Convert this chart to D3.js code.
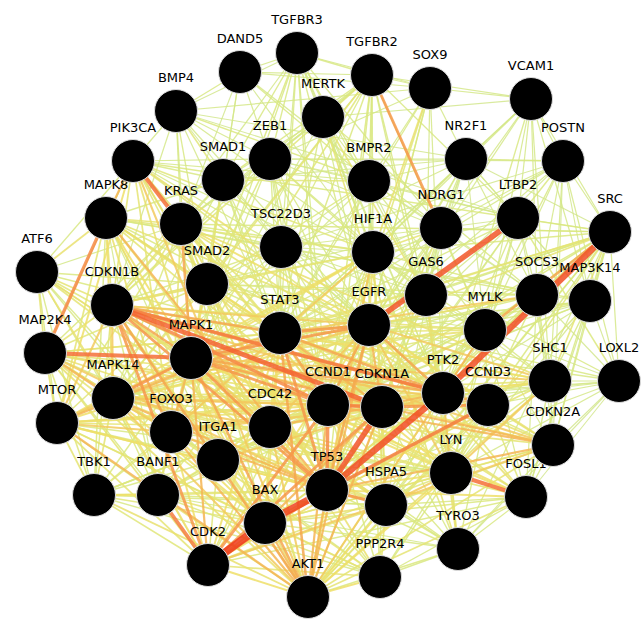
<!DOCTYPE html>
<html>
<head>
<meta charset="utf-8">
<script src="https://cdn.jsdelivr.net/npm/d3@7"></script>
<style>
body { margin: 0; background: #fff; }
</style>
</head>
<body>
<div id="chart"></div>
<script>
// node names and layout coordinates
var nodeNames = ["TGFBR3", "DAND5", "TGFBR2", "SOX9", "VCAM1", "MERTK", "BMP4", "PIK3CA", "ZEB1", "SMAD1",
    "BMPR2", "NR2F1", "POSTN", "MAPK8", "KRAS", "TSC22D3", "NDRG1", "LTBP2", "SRC", "HIF1A",
    "ATF6", "SMAD2", "GAS6", "SOCS3", "MAP3K14", "CDKN1B", "STAT3", "EGFR", "MYLK", "MAP2K4",
    "MAPK1", "SHC1", "LOXL2", "MAPK14", "PTK2", "CCND1", "CDKN1A", "CCND3", "MTOR", "CDC42",
    "FOXO3", "CDKN2A", "ITGA1", "LYN", "TP53", "TBK1", "BANF1", "FOSL1", "HSPA5", "BAX",
    "TYRO3", "CDK2", "PPP2R4", "AKT1"];
var nodeX = [297, 240, 372, 430, 531, 323, 176, 133, 270, 223,
    369, 466, 563, 106, 181, 281, 441, 518, 610, 373,
    37, 207, 426, 537, 590, 112, 280, 369, 485, 45,
    191, 550, 619, 113, 443, 328, 382, 488, 57, 270,
    171, 553, 218, 451, 327, 94, 158, 526, 386, 265,
    458, 208, 380, 308];
var nodeY = [53, 72, 75, 88, 99, 117, 111, 161, 159, 180,
    181, 159, 161, 218, 224, 247, 228, 218, 232, 252,
    272, 284, 295, 295, 301, 305, 333, 325, 330, 353,
    358, 381, 381, 398, 393, 405, 407, 405, 423, 427,
    432, 445, 460, 473, 490, 495, 495, 497, 505, 523,
    549, 565, 577, 597];

// interactions: [source, target, combined score 0..1]
var edges = [
    ["CDK2","BAX",1.0], ["BAX","TP53",0.95], ["TP53","PTK2",0.9], ["SRC","PTK2",0.9], ["LTBP2","EGFR",0.85],
    ["TP53","CDKN1A",0.85], ["CDKN1B","CDKN1A",0.8], ["MAP2K4","MAPK1",0.75], ["MAPK8","MAP2K4",0.65], ["PIK3CA","KRAS",0.75],
    ["TGFBR2","NDRG1",0.6], ["LYN","FOSL1",0.75], ["BANF1","CDK2",0.7], ["SRC","MYLK",0.55], ["TP53","CCND3",0.7],
    ["CCND1","CDK2",0.6], ["MAPK14","MAPK1",0.6], ["CDKN1B","PTK2",0.7], ["CDKN1B","STAT3",0.55], ["TP53","HSPA5",0.6],
    ["CDKN1A","CCND3",0.6], ["STAT3","CCND1",0.55], ["MAPK1","CCND1",0.6], ["MAPK1","STAT3",0.5], ["MAPK1","EGFR",0.6],
    ["PIK3CA","MAPK8",0.5], ["PIK3CA","AKT1",0.45], ["KRAS","MAPK1",0.55], ["MTOR","AKT1",0.5], ["MAPK14","TP53",0.5],
    ["FOXO3","AKT1",0.5], ["FOXO3","CDKN1B",0.55], ["TP53","CDK2",0.55], ["BAX","AKT1",0.5], ["HSPA5","LYN",0.45],
    ["CCND1","CDKN1A",0.7], ["MYLK","PTK2",0.5], ["SOCS3","STAT3",0.45], ["EGFR","STAT3",0.6], ["EGFR","PTK2",0.55],
    ["EGFR","SHC1",0.45], ["SHC1","SRC",0.3], ["LYN","PTK2",0.45], ["HIF1A","TP53",0.45], ["HIF1A","EGFR",0.4],
    ["CDC42","MAPK14",0.45], ["CDC42","PTK2",0.5], ["ITGA1","PTK2",0.45], ["MAPK8","TP53",0.5], ["MAP2K4","MAPK14",0.5],
    ["TBK1","BANF1",0.4], ["CDK2","CCND3",0.4], ["CDK2","CDKN1A",0.6], ["AKT1","TP53",0.5], ["PPP2R4","AKT1",0.4],
    ["LYN","SHC1",0.45], ["CDKN2A","CCND3",0.3], ["SOX9","HIF1A",0.35],

    ["TGFBR3","DAND5",0.1], ["TGFBR3","TGFBR2",0.15], ["TGFBR3","MERTK",0.1], ["TGFBR3","ZEB1",0.15], ["TGFBR3","SMAD1",0.15],
    ["TGFBR3","BMPR2",0.2], ["TGFBR3","SMAD2",0.2], ["TGFBR3","TSC22D3",0.1], ["TGFBR3","STAT3",0.15], ["TGFBR3","HIF1A",0.1],
    ["TGFBR3","EGFR",0.15], ["TGFBR3","NDRG1",0.1], ["TGFBR3","GAS6",0.1], ["TGFBR3","CDKN1B",0.1], ["TGFBR3","MAPK1",0.15],
    ["TGFBR3","TP53",0.15], ["TGFBR3","SOX9",0.1], ["TGFBR3","CCND1",0.1], ["TGFBR3","PTK2",0.1],
    ["DAND5","BMP4",0.15], ["DAND5","SMAD1",0.1], ["DAND5","ZEB1",0.1], ["DAND5","BMPR2",0.15], ["DAND5","TGFBR2",0.1],
    ["DAND5","SMAD2",0.1], ["DAND5","SOX9",0.1], ["DAND5","KRAS",0.05], ["DAND5","NDRG1",0.1], ["DAND5","HIF1A",0.05],
    ["TGFBR2","MERTK",0.1], ["TGFBR2","SMAD2",0.3], ["TGFBR2","SMAD1",0.2], ["TGFBR2","BMPR2",0.15], ["TGFBR2","ZEB1",0.15],
    ["TGFBR2","STAT3",0.2], ["TGFBR2","EGFR",0.2], ["TGFBR2","HIF1A",0.15], ["TGFBR2","GAS6",0.15], ["TGFBR2","MYLK",0.2],
    ["TGFBR2","CDKN1B",0.25], ["TGFBR2","MAPK1",0.25], ["TGFBR2","KRAS",0.15], ["TGFBR2","TP53",0.2], ["TGFBR2","PTK2",0.15],
    ["TGFBR2","SOX9",0.1], ["TGFBR2","LTBP2",0.15], ["TGFBR2","CCND1",0.2], ["TGFBR2","TSC22D3",0.15], ["TGFBR2","MAPK14",0.15],
    ["SOX9","BMPR2",0.1], ["SOX9","NR2F1",0.1], ["SOX9","VCAM1",0.1], ["SOX9","EGFR",0.1], ["SOX9","GAS6",0.1],
    ["SOX9","ZEB1",0.1], ["SOX9","CCND1",0.25], ["SOX9","TP53",0.2], ["SOX9","STAT3",0.15], ["SOX9","PTK2",0.1],
    ["VCAM1","NR2F1",0.05], ["VCAM1","POSTN",0.1], ["VCAM1","MERTK",0.05], ["VCAM1","SRC",0.1], ["VCAM1","LTBP2",0.1],
    ["VCAM1","EGFR",0.1], ["VCAM1","PTK2",0.15], ["VCAM1","STAT3",0.1], ["VCAM1","HIF1A",0.1], ["VCAM1","SOCS3",0.1],
    ["VCAM1","MYLK",0.1], ["VCAM1","SHC1",0.1], ["VCAM1","MAP3K14",0.1], ["VCAM1","CCND1",0.1], ["VCAM1","TGFBR2",0.1],
    ["MERTK","GAS6",0.3], ["MERTK","TYRO3",0.3], ["MERTK","ZEB1",0.1], ["MERTK","SMAD1",0.1], ["MERTK","STAT3",0.15],
    ["MERTK","EGFR",0.1], ["MERTK","HIF1A",0.1], ["MERTK","BMPR2",0.1], ["MERTK","KRAS",0.1], ["MERTK","PTK2",0.1],
    ["MERTK","LYN",0.1], ["MERTK","SOCS3",0.15], ["MERTK","MAPK1",0.1],
    ["BMP4","SMAD1",0.25], ["BMP4","BMPR2",0.2], ["BMP4","SMAD2",0.15], ["BMP4","ZEB1",0.1], ["BMP4","PIK3CA",0.1],
    ["BMP4","TSC22D3",0.05], ["BMP4","KRAS",0.1], ["BMP4","STAT3",0.1], ["BMP4","HIF1A",0.1], ["BMP4","MAPK1",0.15],
    ["BMP4","TGFBR3",0.05], ["BMP4","CDKN1B",0.1], ["BMP4","NR2F1",0.05], ["BMP4","LTBP2",0.05], ["BMP4","SOX9",0.1],
    ["BMP4","EGFR",0.1],
    ["PIK3CA","MTOR",0.4], ["PIK3CA","EGFR",0.35], ["PIK3CA","SMAD1",0.15], ["PIK3CA","ZEB1",0.1], ["PIK3CA","STAT3",0.3],
    ["PIK3CA","TSC22D3",0.15], ["PIK3CA","SMAD2",0.2], ["PIK3CA","CDKN1B",0.3], ["PIK3CA","MAPK1",0.35], ["PIK3CA","MAP2K4",0.2],
    ["PIK3CA","ATF6",0.15], ["PIK3CA","PTK2",0.25], ["PIK3CA","FOXO3",0.3], ["PIK3CA","HIF1A",0.25], ["PIK3CA","TP53",0.35],
    ["PIK3CA","CCND1",0.3], ["PIK3CA","CDC42",0.25], ["PIK3CA","BMPR2",0.1], ["PIK3CA","GAS6",0.1],
    ["ZEB1","SMAD1",0.1], ["ZEB1","SMAD2",0.2], ["ZEB1","TSC22D3",0.1], ["ZEB1","STAT3",0.15], ["ZEB1","HIF1A",0.2],
    ["ZEB1","EGFR",0.15], ["ZEB1","BMPR2",0.1], ["ZEB1","CDKN1B",0.15], ["ZEB1","MAPK1",0.15], ["ZEB1","NDRG1",0.1],
    ["ZEB1","TP53",0.15], ["ZEB1","CCND1",0.2], ["ZEB1","CDKN1A",0.15], ["ZEB1","KRAS",0.1], ["ZEB1","GAS6",0.1],
    ["ZEB1","NR2F1",0.05], ["ZEB1","POSTN",0.1], ["ZEB1","LTBP2",0.05],
    ["SMAD1","SMAD2",0.3], ["SMAD1","BMPR2",0.25], ["SMAD1","KRAS",0.1], ["SMAD1","STAT3",0.15], ["SMAD1","MAPK1",0.2],
    ["SMAD1","TSC22D3",0.1], ["SMAD1","CDKN1B",0.15], ["SMAD1","TP53",0.15], ["SMAD1","HIF1A",0.1], ["SMAD1","MAPK8",0.15],
    ["SMAD1","MAPK14",0.15], ["SMAD1","EGFR",0.1], ["SMAD1","CCND1",0.15],
    ["BMPR2","SMAD2",0.2], ["BMPR2","NDRG1",0.1], ["BMPR2","HIF1A",0.1], ["BMPR2","EGFR",0.1], ["BMPR2","STAT3",0.1],
    ["BMPR2","MAPK1",0.1], ["BMPR2","TSC22D3",0.05], ["BMPR2","NR2F1",0.05], ["BMPR2","GAS6",0.05], ["BMPR2","LTBP2",0.1],
    ["BMPR2","MYLK",0.1], ["BMPR2","SOCS3",0.05],
    ["NR2F1","NDRG1",0.1], ["NR2F1","POSTN",0.15], ["NR2F1","LTBP2",0.1], ["NR2F1","HIF1A",0.15], ["NR2F1","EGFR",0.1],
    ["NR2F1","CCND1",0.15], ["NR2F1","TP53",0.1], ["NR2F1","STAT3",0.1], ["NR2F1","GAS6",0.05], ["NR2F1","SOCS3",0.1],
    ["NR2F1","MYLK",0.05], ["NR2F1","SRC",0.05], ["NR2F1","CDKN1A",0.1], ["NR2F1","TSC22D3",0.1], ["NR2F1","SMAD1",0.05],
    ["NR2F1","MAP3K14",0.05],
    ["POSTN","LTBP2",0.2], ["POSTN","SRC",0.1], ["POSTN","EGFR",0.1], ["POSTN","PTK2",0.15], ["POSTN","MYLK",0.1],
    ["POSTN","NDRG1",0.1], ["POSTN","SOCS3",0.1], ["POSTN","STAT3",0.1], ["POSTN","SHC1",0.1], ["POSTN","LOXL2",0.1],
    ["POSTN","GAS6",0.05], ["POSTN","MAP3K14",0.05], ["POSTN","HIF1A",0.1], ["POSTN","CDKN2A",0.05], ["POSTN","TSC22D3",0.05],
    ["MAPK8","KRAS",0.3], ["MAPK8","ATF6",0.35], ["MAPK8","MAPK14",0.4], ["MAPK8","MAPK1",0.4], ["MAPK8","STAT3",0.35],
    ["MAPK8","CDKN1B",0.3], ["MAPK8","SMAD2",0.3], ["MAPK8","FOXO3",0.35], ["MAPK8","CCND1",0.3], ["MAPK8","CDKN1A",0.35],
    ["MAPK8","EGFR",0.3], ["MAPK8","HIF1A",0.25], ["MAPK8","MTOR",0.3], ["MAPK8","AKT1",0.35], ["MAPK8","BAX",0.3],
    ["MAPK8","TBK1",0.2], ["MAPK8","BANF1",0.1], ["MAPK8","ITGA1",0.1], ["MAPK8","MAP3K14",0.15], ["MAPK8","CDC42",0.3],
    ["MAPK8","PTK2",0.2], ["MAPK8","TSC22D3",0.15],
    ["KRAS","SMAD2",0.2], ["KRAS","STAT3",0.3], ["KRAS","EGFR",0.4], ["KRAS","CDKN1B",0.3], ["KRAS","PTK2",0.3],
    ["KRAS","TP53",0.35], ["KRAS","CCND1",0.35], ["KRAS","AKT1",0.3], ["KRAS","MTOR",0.25], ["KRAS","MAPK14",0.2],
    ["KRAS","CDC42",0.3], ["KRAS","SHC1",0.35], ["KRAS","SRC",0.2], ["KRAS","TSC22D3",0.15], ["KRAS","HIF1A",0.2],
    ["KRAS","CDKN1A",0.3], ["KRAS","FOXO3",0.3], ["KRAS","ATF6",0.1], ["KRAS","MAP2K4",0.2], ["KRAS","BAX",0.2],
    ["TSC22D3","SMAD2",0.15], ["TSC22D3","STAT3",0.15], ["TSC22D3","HIF1A",0.1], ["TSC22D3","EGFR",0.15], ["TSC22D3","MAPK1",0.15],
    ["TSC22D3","CCND1",0.15], ["TSC22D3","TP53",0.15], ["TSC22D3","FOXO3",0.2], ["TSC22D3","CDKN1B",0.15], ["TSC22D3","NDRG1",0.1],
    ["TSC22D3","GAS6",0.05], ["TSC22D3","MYLK",0.1], ["TSC22D3","CDKN1A",0.15], ["TSC22D3","MAPK14",0.1], ["TSC22D3","SOCS3",0.15],
    ["TSC22D3","PTK2",0.1], ["TSC22D3","CDC42",0.1],
    ["NDRG1","HIF1A",0.3], ["NDRG1","TP53",0.3], ["NDRG1","EGFR",0.2], ["NDRG1","GAS6",0.1], ["NDRG1","LTBP2",0.05],
    ["NDRG1","MYLK",0.1], ["NDRG1","SOCS3",0.05], ["NDRG1","PTK2",0.1], ["NDRG1","CDKN1A",0.2], ["NDRG1","CCND1",0.15],
    ["NDRG1","STAT3",0.1], ["NDRG1","MAPK1",0.1], ["NDRG1","HSPA5",0.1], ["NDRG1","SRC",0.1], ["NDRG1","CDKN1B",0.1],
    ["LTBP2","GAS6",0.1], ["LTBP2","SOCS3",0.1], ["LTBP2","MYLK",0.15], ["LTBP2","SRC",0.1], ["LTBP2","PTK2",0.15],
    ["LTBP2","STAT3",0.15], ["LTBP2","HIF1A",0.1], ["LTBP2","MAP3K14",0.05], ["LTBP2","SHC1",0.05], ["LTBP2","LOXL2",0.2],
    ["LTBP2","CCND1",0.1], ["LTBP2","TP53",0.15], ["LTBP2","CDKN1A",0.1], ["LTBP2","LYN",0.1],
    ["SRC","MAP3K14",0.15], ["SRC","SOCS3",0.25], ["SRC","EGFR",0.3], ["SRC","STAT3",0.3], ["SRC","LYN",0.25],
    ["SRC","CDKN1A",0.2], ["SRC","CCND1",0.2], ["SRC","LOXL2",0.1], ["SRC","CDKN2A",0.15], ["SRC","FOSL1",0.15],
    ["SRC","GAS6",0.1], ["SRC","HIF1A",0.2], ["SRC","TP53",0.25], ["SRC","CCND3",0.2], ["SRC","CDC42",0.2],
    ["SRC","MAPK1",0.25], ["SRC","AKT1",0.2], ["SRC","PIK3CA",0.2], ["SRC","MAPK14",0.2], ["SRC","HSPA5",0.15],
    ["SRC","TYRO3",0.1],
    ["HIF1A","STAT3",0.45], ["HIF1A","GAS6",0.15], ["HIF1A","MAPK1",0.4], ["HIF1A","CCND1",0.35], ["HIF1A","CDKN1A",0.35],
    ["HIF1A","PTK2",0.25], ["HIF1A","MTOR",0.4], ["HIF1A","AKT1",0.4], ["HIF1A","SOCS3",0.2], ["HIF1A","MYLK",0.15],
    ["HIF1A","HSPA5",0.3], ["HIF1A","FOXO3",0.3], ["HIF1A","CDKN1B",0.3], ["HIF1A","SMAD2",0.25], ["HIF1A","MAPK14",0.3],
    ["HIF1A","BAX",0.25], ["HIF1A","LYN",0.15], ["HIF1A","CDK2",0.2],
    ["ATF6","MAP2K4",0.3], ["ATF6","HSPA5",0.35], ["ATF6","MAPK14",0.35], ["ATF6","CDKN1B",0.3], ["ATF6","MAPK1",0.25],
    ["ATF6","MTOR",0.2], ["ATF6","SMAD2",0.2], ["ATF6","TBK1",0.15], ["ATF6","STAT3",0.2], ["ATF6","FOXO3",0.15],
    ["ATF6","CDK2",0.1], ["ATF6","TP53",0.3], ["ATF6","BAX",0.15], ["ATF6","CDC42",0.1],
    ["SMAD2","STAT3",0.4], ["SMAD2","MAPK1",0.4], ["SMAD2","CDKN1B",0.35], ["SMAD2","CCND1",0.35], ["SMAD2","TP53",0.35],
    ["SMAD2","EGFR",0.3], ["SMAD2","MAPK14",0.3], ["SMAD2","FOXO3",0.35], ["SMAD2","CDKN1A",0.35], ["SMAD2","PTK2",0.2],
    ["SMAD2","CDC42",0.2], ["SMAD2","AKT1",0.3], ["SMAD2","SOCS3",0.2], ["SMAD2","MYLK",0.1], ["SMAD2","MAP2K4",0.25],
    ["SMAD2","MTOR",0.25], ["SMAD2","GAS6",0.1],
    ["GAS6","TYRO3",0.35], ["GAS6","LYN",0.2], ["GAS6","MYLK",0.1], ["GAS6","SOCS3",0.2], ["GAS6","EGFR",0.15],
    ["GAS6","PTK2",0.25], ["GAS6","STAT3",0.2], ["GAS6","AKT1",0.2], ["GAS6","CDKN1A",0.15], ["GAS6","CCND1",0.1],
    ["GAS6","TP53",0.15], ["GAS6","SHC1",0.15],
    ["SOCS3","MAP3K14",0.1], ["SOCS3","SHC1",0.15], ["SOCS3","MYLK",0.1], ["SOCS3","EGFR",0.35], ["SOCS3","PTK2",0.2],
    ["SOCS3","LYN",0.2], ["SOCS3","CCND1",0.2], ["SOCS3","CDKN1A",0.15], ["SOCS3","TP53",0.2], ["SOCS3","LOXL2",0.05],
    ["SOCS3","CDKN2A",0.1], ["SOCS3","FOSL1",0.1], ["SOCS3","MAPK1",0.25], ["SOCS3","MAPK14",0.2], ["SOCS3","AKT1",0.2],
    ["SOCS3","CDC42",0.15], ["SOCS3","ITGA1",0.1],
    ["MAP3K14","SHC1",0.15], ["MAP3K14","LOXL2",0.05], ["MAP3K14","MYLK",0.05], ["MAP3K14","TBK1",0.15], ["MAP3K14","MAPK14",0.2],
    ["MAP3K14","MAPK1",0.2], ["MAP3K14","CDKN2A",0.05], ["MAP3K14","PTK2",0.1], ["MAP3K14","STAT3",0.15], ["MAP3K14","CCND1",0.1],
    ["MAP3K14","LYN",0.1], ["MAP3K14","FOSL1",0.1], ["MAP3K14","AKT1",0.2],
    ["CDKN1B","MAPK1",0.55], ["CDKN1B","CCND1",0.65], ["CDKN1B","TP53",0.6], ["CDKN1B","CDK2",0.6], ["CDKN1B","AKT1",0.55],
    ["CDKN1B","MAPK14",0.45], ["CDKN1B","MTOR",0.45], ["CDKN1B","MAP2K4",0.3], ["CDKN1B","CCND3",0.55], ["CDKN1B","CDC42",0.35],
    ["CDKN1B","BAX",0.35], ["CDKN1B","EGFR",0.45], ["CDKN1B","ITGA1",0.25], ["CDKN1B","CDKN2A",0.45], ["CDKN1B","HSPA5",0.3],
    ["CDKN1B","BANF1",0.2], ["CDKN1B","LYN",0.3], ["CDKN1B","MYLK",0.3], ["CDKN1B","SHC1",0.3], ["CDKN1B","TBK1",0.2],
    ["STAT3","TP53",0.6], ["STAT3","CDKN1A",0.5], ["STAT3","PTK2",0.55], ["STAT3","AKT1",0.55], ["STAT3","MTOR",0.5],
    ["STAT3","MAPK14",0.45], ["STAT3","CDC42",0.4], ["STAT3","FOXO3",0.45], ["STAT3","MYLK",0.3], ["STAT3","SHC1",0.4],
    ["STAT3","LYN",0.4], ["STAT3","HSPA5",0.35], ["STAT3","BAX",0.4], ["STAT3","CDK2",0.4], ["STAT3","CCND3",0.4],
    ["STAT3","CDKN2A",0.35], ["STAT3","FOSL1",0.3], ["STAT3","MAP2K4",0.3], ["STAT3","ITGA1",0.3], ["STAT3","BANF1",0.2],
    ["STAT3","LOXL2",0.15], ["STAT3","TBK1",0.2],
    ["EGFR","CCND1",0.55], ["EGFR","TP53",0.55], ["EGFR","CDKN1A",0.5], ["EGFR","AKT1",0.5], ["EGFR","MTOR",0.4],
    ["EGFR","MAPK14",0.45], ["EGFR","CDC42",0.45], ["EGFR","LYN",0.45], ["EGFR","MYLK",0.3], ["EGFR","FOXO3",0.35],
    ["EGFR","HSPA5",0.3], ["EGFR","BAX",0.3], ["EGFR","CCND3",0.4], ["EGFR","CDK2",0.4], ["EGFR","CDKN2A",0.35],
    ["EGFR","FOSL1",0.35], ["EGFR","ITGA1",0.3], ["EGFR","TYRO3",0.25], ["EGFR","PPP2R4",0.2], ["EGFR","LOXL2",0.15],
    ["EGFR","MAP2K4",0.3], ["EGFR","MAP3K14",0.1],
    ["MYLK","CCND3",0.2], ["MYLK","CDKN1A",0.2], ["MYLK","LYN",0.2], ["MYLK","SHC1",0.15], ["MYLK","MAPK1",0.35],
    ["MYLK","MAPK14",0.25], ["MYLK","CDC42",0.3], ["MYLK","TP53",0.25], ["MYLK","ITGA1",0.25], ["MYLK","CDKN2A",0.1],
    ["MYLK","FOSL1",0.1], ["MYLK","LOXL2",0.05], ["MYLK","HSPA5",0.1], ["MYLK","AKT1",0.25], ["MYLK","CCND1",0.2],
    ["MAP2K4","MTOR",0.3], ["MAP2K4","TP53",0.45], ["MAP2K4","FOXO3",0.35], ["MAP2K4","CDKN1A",0.35], ["MAP2K4","CCND1",0.35],
    ["MAP2K4","CDC42",0.35], ["MAP2K4","TBK1",0.25], ["MAP2K4","BANF1",0.15], ["MAP2K4","AKT1",0.35], ["MAP2K4","BAX",0.3],
    ["MAP2K4","CDK2",0.3], ["MAP2K4","ITGA1",0.15], ["MAP2K4","HSPA5",0.2], ["MAP2K4","PTK2",0.3],
    ["MAPK1","TP53",0.6], ["MAPK1","CDKN1A",0.55], ["MAPK1","PTK2",0.55], ["MAPK1","AKT1",0.55], ["MAPK1","MTOR",0.45],
    ["MAPK1","FOXO3",0.5], ["MAPK1","CDC42",0.45], ["MAPK1","CCND3",0.45], ["MAPK1","CDK2",0.5], ["MAPK1","BAX",0.4],
    ["MAPK1","LYN",0.4], ["MAPK1","SHC1",0.45], ["MAPK1","HSPA5",0.35], ["MAPK1","ITGA1",0.3], ["MAPK1","BANF1",0.25],
    ["MAPK1","TBK1",0.2], ["MAPK1","FOSL1",0.4], ["MAPK1","CDKN2A",0.4], ["MAPK1","TYRO3",0.2], ["MAPK1","PPP2R4",0.25],
    ["SHC1","PTK2",0.4], ["SHC1","CDKN1A",0.2], ["SHC1","CCND1",0.25], ["SHC1","CCND3",0.2], ["SHC1","TP53",0.3],
    ["SHC1","AKT1",0.35], ["SHC1","CDKN2A",0.1], ["SHC1","FOSL1",0.15], ["SHC1","LOXL2",0.1], ["SHC1","MAPK14",0.3],
    ["SHC1","CDC42",0.3], ["SHC1","HSPA5",0.2],
    ["LOXL2","CDKN2A",0.05], ["LOXL2","PTK2",0.1], ["LOXL2","CCND3",0.1], ["LOXL2","FOSL1",0.05], ["LOXL2","TP53",0.1],
    ["LOXL2","LYN",0.1], ["LOXL2","CCND1",0.1], ["LOXL2","HIF1A",0.15], ["LOXL2","TYRO3",0.05], ["LOXL2","CDKN1A",0.1],
    ["MAPK14","CDKN1A",0.45], ["MAPK14","CCND1",0.45], ["MAPK14","MTOR",0.35], ["MAPK14","FOXO3",0.45], ["MAPK14","AKT1",0.45],
    ["MAPK14","BAX",0.4], ["MAPK14","CDK2",0.4], ["MAPK14","BANF1",0.2], ["MAPK14","TBK1",0.3], ["MAPK14","ITGA1",0.25],
    ["MAPK14","HSPA5",0.35], ["MAPK14","PTK2",0.35], ["MAPK14","LYN",0.3], ["MAPK14","CCND3",0.35], ["MAPK14","FOSL1",0.3],
    ["MAPK14","CDKN2A",0.3],
    ["PTK2","CDKN1A",0.4], ["PTK2","CCND1",0.4], ["PTK2","CCND3",0.3], ["PTK2","AKT1",0.45], ["PTK2","MTOR",0.3],
    ["PTK2","HSPA5",0.2], ["PTK2","FOSL1",0.3], ["PTK2","CDKN2A",0.25], ["PTK2","TYRO3",0.2], ["PTK2","BAX",0.3],
    ["PTK2","CDK2",0.3], ["PTK2","FOXO3",0.3],
    ["CCND1","CCND3",0.45], ["CCND1","TP53",0.65], ["CCND1","AKT1",0.5], ["CCND1","MTOR",0.4], ["CCND1","FOXO3",0.45],
    ["CCND1","CDC42",0.35], ["CCND1","BAX",0.35], ["CCND1","HSPA5",0.3], ["CCND1","LYN",0.3], ["CCND1","CDKN2A",0.5],
    ["CCND1","FOSL1",0.4], ["CCND1","ITGA1",0.25], ["CCND1","BANF1",0.2], ["CCND1","PPP2R4",0.2], ["CCND1","TBK1",0.15],
    ["CCND1","TYRO3",0.15],
    ["CDKN1A","AKT1",0.5], ["CDKN1A","MTOR",0.35], ["CDKN1A","FOXO3",0.45], ["CDKN1A","BAX",0.5], ["CDKN1A","HSPA5",0.3],
    ["CDKN1A","LYN",0.3], ["CDKN1A","CDKN2A",0.5], ["CDKN1A","FOSL1",0.3], ["CDKN1A","CDC42",0.3], ["CDKN1A","ITGA1",0.2],
    ["CDKN1A","BANF1",0.2], ["CDKN1A","PPP2R4",0.2], ["CDKN1A","TYRO3",0.15],
    ["CCND3","AKT1",0.3], ["CCND3","LYN",0.25], ["CCND3","FOSL1",0.25], ["CCND3","HSPA5",0.2], ["CCND3","BAX",0.25],
    ["CCND3","TYRO3",0.15], ["CCND3","PPP2R4",0.15],
    ["MTOR","FOXO3",0.45], ["MTOR","TP53",0.4], ["MTOR","TBK1",0.3], ["MTOR","BANF1",0.2], ["MTOR","CDC42",0.3],
    ["MTOR","BAX",0.3], ["MTOR","CDK2",0.3], ["MTOR","HSPA5",0.35], ["MTOR","ITGA1",0.2], ["MTOR","PPP2R4",0.25],
    ["MTOR","LYN",0.15],
    ["CDC42","ITGA1",0.4], ["CDC42","TP53",0.4], ["CDC42","AKT1",0.45], ["CDC42","FOXO3",0.3], ["CDC42","BAX",0.3],
    ["CDC42","CDK2",0.3], ["CDC42","LYN",0.3], ["CDC42","HSPA5",0.2], ["CDC42","PPP2R4",0.2], ["CDC42","BANF1",0.25],
    ["CDC42","TBK1",0.2], ["CDC42","TYRO3",0.15],
    ["FOXO3","TP53",0.5], ["FOXO3","BAX",0.4], ["FOXO3","CDK2",0.4], ["FOXO3","ITGA1",0.2], ["FOXO3","BANF1",0.3],
    ["FOXO3","TBK1",0.25], ["FOXO3","HSPA5",0.3], ["FOXO3","PPP2R4",0.3], ["FOXO3","LYN",0.2],
    ["CDKN2A","TP53",0.5], ["CDKN2A","CDK2",0.45], ["CDKN2A","FOSL1",0.15], ["CDKN2A","LYN",0.2], ["CDKN2A","AKT1",0.3],
    ["CDKN2A","BAX",0.3], ["CDKN2A","HSPA5",0.15], ["CDKN2A","TYRO3",0.1],
    ["ITGA1","AKT1",0.35], ["ITGA1","TP53",0.3], ["ITGA1","BAX",0.25], ["ITGA1","CDK2",0.25], ["ITGA1","LYN",0.2],
    ["ITGA1","BANF1",0.2], ["ITGA1","HSPA5",0.2], ["ITGA1","TBK1",0.15], ["ITGA1","PPP2R4",0.15],
    ["LYN","TP53",0.4], ["LYN","AKT1",0.4], ["LYN","TYRO3",0.3], ["LYN","BAX",0.25], ["LYN","CDK2",0.25],
    ["LYN","PPP2R4",0.2],
    ["TP53","PPP2R4",0.35], ["TP53","TYRO3",0.2], ["TP53","FOSL1",0.4], ["TP53","BANF1",0.3], ["TP53","TBK1",0.25],
    ["TBK1","AKT1",0.35], ["TBK1","BAX",0.25], ["TBK1","CDK2",0.25], ["TBK1","HSPA5",0.2], ["TBK1","PPP2R4",0.15],
    ["BANF1","BAX",0.3], ["BANF1","AKT1",0.3], ["BANF1","HSPA5",0.2], ["BANF1","PPP2R4",0.2], ["BANF1","TYRO3",0.1],
    ["FOSL1","AKT1",0.3], ["FOSL1","HSPA5",0.15], ["FOSL1","TYRO3",0.15], ["FOSL1","BAX",0.2], ["FOSL1","CDK2",0.2],
    ["FOSL1","PPP2R4",0.15],
    ["HSPA5","AKT1",0.4], ["HSPA5","BAX",0.35], ["HSPA5","CDK2",0.3], ["HSPA5","TYRO3",0.2], ["HSPA5","PPP2R4",0.3],
    ["BAX","PPP2R4",0.3], ["BAX","TYRO3",0.15], ["TYRO3","PPP2R4",0.15], ["TYRO3","AKT1",0.2],
    ["CDK2","AKT1",0.4], ["CDK2","PPP2R4",0.3]
];

var width = 644,
    height = 620,
    radius = 21.5;

var x = d3.scaleLinear().domain([0, 644]).range([0, width]);
var y = d3.scaleLinear().domain([0, 620]).range([0, height]);

// Cytoscape style continuous mapping of the score
var edgeColor = d3.scaleLinear()
    .domain([0, 0.2, 0.4, 0.5, 0.65, 0.85, 1])
    .range(["#cfe592", "#dbe87e", "#eedf68", "#f5b553", "#f68a46", "#f2562a", "#ee3a1a"]);
var edgeWidth = d3.scaleLinear()
    .domain([0, 0.5, 0.75, 1])
    .range([1, 2.2, 4, 8]);

var nodes = nodeNames.map(function (n, i) {
    return { name: n, x: nodeX[i], y: nodeY[i] };
});
var byName = {};
nodes.forEach(function (d) { byName[d.name] = d; });

var links = edges.map(function (e) {
    return { source: byName[e[0]], target: byName[e[1]], score: e[2] };
}).sort(function (a, b) { return a.score - b.score; });

var svg = d3.select("#chart")
    .append("svg")
    .attr("width", width)
    .attr("height", height)
    .style("background-color", "#fff");

svg.append("g")
    .selectAll("line")
    .data(links)
    .enter()
    .append("line")
    .attr("x1", function (d) { return x(d.source.x); })
    .attr("y1", function (d) { return y(d.source.y); })
    .attr("x2", function (d) { return x(d.target.x); })
    .attr("y2", function (d) { return y(d.target.y); })
    .attr("stroke", function (d) { return edgeColor(d.score); })
    .attr("stroke-width", function (d) { return edgeWidth(d.score); })
    .attr("stroke-opacity", 0.85);

// labels sit under the circles, so neighbours may cover them
svg.append("g")
    .selectAll("text")
    .data(nodes)
    .enter()
    .append("text")
    .attr("x", function (d) { return x(d.x); })
    .attr("y", function (d) { return y(d.y) - 29; })
    .attr("text-anchor", "middle")
    .style("font-family", "'DejaVu Sans', sans-serif")
    .style("font-size", "13px")
    .attr("fill", "#000")
    .text(function (d) { return d.name; });

svg.append("g")
    .selectAll("circle")
    .data(nodes)
    .enter()
    .append("circle")
    .attr("cx", function (d) { return x(d.x); })
    .attr("cy", function (d) { return y(d.y); })
    .attr("r", radius)
    .attr("fill", "#000")
    .attr("stroke", "#dcdcdc")
    .attr("stroke-width", 1);
</script>
</body>
</html>
